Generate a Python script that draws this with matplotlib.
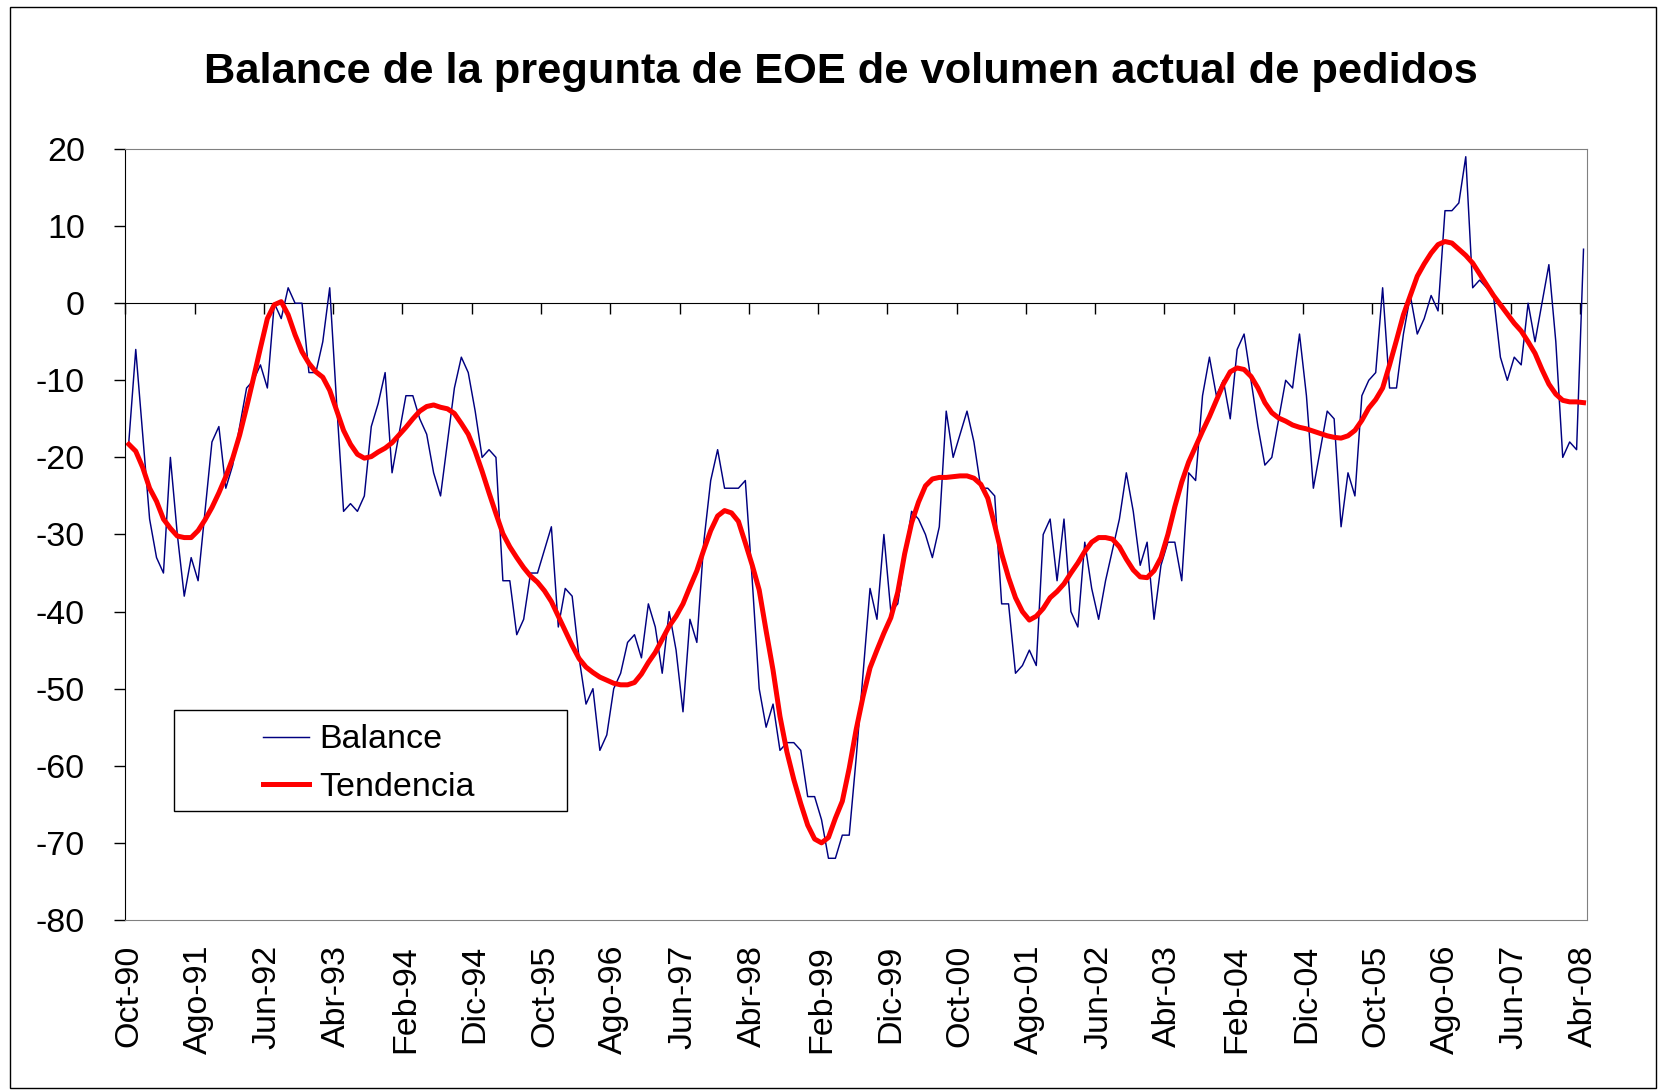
import matplotlib.pyplot as plt
import numpy as np
from matplotlib.patches import Rectangle

plt.rcParams['font.family'] = ['Liberation Sans', 'DejaVu Sans']
plt.rcParams['axes.unicode_minus'] = False

# ---- datos mensuales: oct-90 .. abr-08 ----
balance = [
    -18, -6, -17, -28, -33, -35, -20, -30, -38, -33,
    -36, -27, -18, -16, -24, -21, -16, -11, -10, -8,
    -11, 0, -2, 2, 0, 0, -9, -9, -5, 2,
    -13, -27, -26, -27, -25, -16, -13, -9, -22, -17,
    -12, -12, -15, -17, -22, -25, -18, -11, -7, -9,
    -14, -20, -19, -20, -36, -36, -43, -41, -35, -35,
    -32, -29, -42, -37, -38, -46, -52, -50, -58, -56,
    -50, -48, -44, -43, -46, -39, -42, -48, -40, -45,
    -53, -41, -44, -31, -23, -19, -24, -24, -24, -23,
    -36, -50, -55, -52, -58, -57, -57, -58, -64, -64,
    -67, -72, -72, -69, -69, -59, -48, -37, -41, -30,
    -40, -39, -33, -27, -28, -30, -33, -29, -14, -20,
    -17, -14, -18, -24, -24, -25, -39, -39, -48, -47,
    -45, -47, -30, -28, -36, -28, -40, -42, -31, -37,
    -41, -36, -32, -28, -22, -27, -34, -31, -41, -34,
    -31, -31, -36, -22, -23, -12, -7, -12, -10, -15,
    -6, -4, -10, -16, -21, -20, -15, -10, -11, -4,
    -12, -24, -19, -14, -15, -29, -22, -25, -12, -10,
    -9, 2, -11, -11, -4, 1, -4, -2, 1, -1,
    12, 12, 13, 19, 2, 3, 2, 1, -7, -10,
    -7, -8, 0, -5, 0, 5, -5, -20, -18, -19,
    7,
]

tendencia = [
    -18.3, -19.2, -21.3, -24.0, -25.7, -28.0, -29.2, -30.2, -30.4, -30.4,
    -29.5, -28.1, -26.5, -24.6, -22.5, -20.1, -17.1, -13.5, -9.7, -5.8,
    -2.0, -0.2, 0.2, -1.5, -4.1, -6.3, -7.8, -8.9, -9.6, -11.3,
    -13.9, -16.5, -18.3, -19.6, -20.1, -19.9, -19.3, -18.8, -18.1, -17.1,
    -16.1, -15.0, -14.0, -13.4, -13.2, -13.5, -13.7, -14.3, -15.6, -17.0,
    -19.2, -21.8, -24.6, -27.3, -29.9, -31.6, -33.0, -34.3, -35.4, -36.2,
    -37.3, -38.7, -40.6, -42.5, -44.4, -46.1, -47.2, -47.9, -48.5, -48.9,
    -49.3, -49.5, -49.5, -49.2, -48.1, -46.6, -45.3, -43.6, -41.9, -40.6,
    -39.0, -36.8, -34.7, -32.0, -29.5, -27.6, -26.9, -27.2, -28.3, -31.1,
    -34.0, -37.2, -42.5, -47.6, -53.6, -58.2, -61.8, -64.9, -67.7, -69.5,
    -70.0, -69.3, -66.8, -64.6, -60.3, -55.3, -51.0, -47.3, -45.0, -42.8,
    -40.8, -37.5, -32.5, -28.5, -25.8, -23.7, -22.8, -22.6, -22.6, -22.5,
    -22.4, -22.4, -22.7, -23.5, -25.3, -28.8, -32.5, -35.6, -38.2, -40.0,
    -41.1, -40.6, -39.6, -38.2, -37.4, -36.4, -35.0, -33.7, -32.2, -31.0,
    -30.4, -30.4, -30.6, -31.6, -33.2, -34.6, -35.5, -35.6, -34.7, -33.0,
    -30.0, -26.4, -23.2, -20.6, -18.6, -16.6, -14.7, -12.6, -10.5, -8.9,
    -8.4, -8.6, -9.5, -11.0, -12.9, -14.2, -14.9, -15.3, -15.8, -16.1,
    -16.3, -16.6, -16.9, -17.2, -17.4, -17.5, -17.2, -16.5, -15.2, -13.6,
    -12.5, -11.0, -8.0, -4.8, -1.5, 1.0, 3.5, 5.1, 6.5, 7.6,
    8.0, 7.8, 7.0, 6.2, 5.2, 3.8, 2.4, 1.0, -0.2, -1.4,
    -2.6, -3.6, -5.0, -6.5, -8.6, -10.5, -11.8, -12.6, -12.8, -12.8,
    -12.9,
]

etiquetas = ["Oct-90", "Ago-91", "Jun-92", "Abr-93", "Feb-94", "Dic-94",
             "Oct-95", "Ago-96", "Jun-97", "Abr-98", "Feb-99", "Dic-99",
             "Oct-00", "Ago-01", "Jun-02", "Abr-03", "Feb-04", "Dic-04",
             "Oct-05", "Ago-06", "Jun-07", "Abr-08"]

titulo = "Balance de la pregunta de EOE de volumen actual de pedidos"

n = len(balance)
x = np.arange(n)
fs = 24.5

fig = plt.figure(figsize=(16.67, 10.90), dpi=100)
ax = fig.add_axes([0.0752, 0.156, 0.8768, 0.7073])

ax.plot(x, balance, color='#000080', lw=1.05, label='Balance')
ax.plot(x, tendencia, color='#ff0000', lw=3.6, label='Tendencia',
        solid_joinstyle='round')

ax.set_xlim(-0.5, n - 0.5)
ax.set_ylim(-80, 20)
ax.set_yticks(range(-80, 21, 10))
ax.tick_params(axis='y', length=8, width=1, pad=21, labelsize=fs)

# etiquetas de fecha abajo, sin marcas
ax.set_xticks(np.arange(0, n, 10))
ax.set_xticklabels(etiquetas, rotation=90)
ax.tick_params(axis='x', length=0, pad=18, labelsize=fs)

for s in ['top', 'right', 'bottom']:
    ax.spines[s].set_color('#808080')
ax.spines['left'].set_color('black')

# eje en y=0 con marcas cada 10 meses
eje0 = ax.secondary_xaxis(0, transform=ax.transData)
eje0.set_xticks(np.arange(-0.5, n, 10))
eje0.tick_params(length=8, width=1, direction='out', labelbottom=False)
eje0.spines['bottom'].set_color('black')

# leyenda con recuadro propio
ax.add_patch(Rectangle((0.0333, 0.141), 0.2689, 0.131, transform=ax.transAxes,
                       facecolor='white', edgecolor='black', lw=1, zorder=4))
ax.legend(loc='center', bbox_to_anchor=(0.1665, 0.2028), frameon=False,
          fontsize=fs, handlelength=1.35, handletextpad=0.3, labelspacing=0.48)

fig.text(841 / 1667, 1 - 82.7 / 1090, titulo, ha='center', va='baseline',
         fontsize=31.2, fontweight='bold')

# marco exterior
fig.patches.append(Rectangle((10 / 1667, 2 / 1090), 1646 / 1667, 1081 / 1090,
                             transform=fig.transFigure, fill=False,
                             edgecolor='black', lw=1))

fig.savefig('out.png', dpi=100)
